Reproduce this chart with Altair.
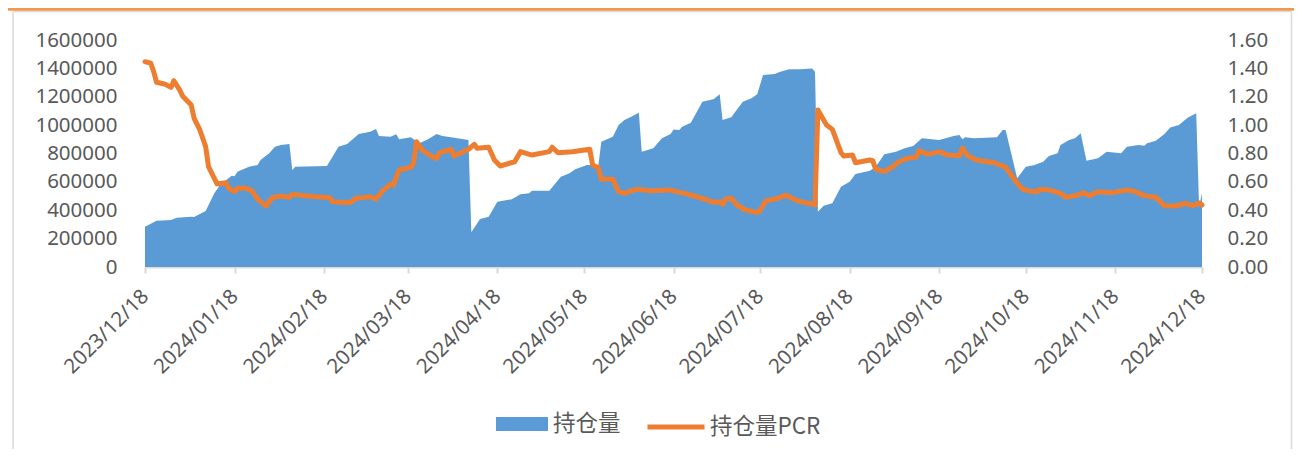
import altair as alt
import pandas as pd

# ---------------- data ----------------
oi_dates = [
    "2023-12-18", "2023-12-22", "2023-12-27", "2023-12-29", "2024-01-03", "2024-01-04",
    "2024-01-08", "2024-01-11", "2024-01-13", "2024-01-17", "2024-01-18", "2024-01-19",
    "2024-01-23", "2024-01-26", "2024-01-27", "2024-01-30", "2024-02-01", "2024-02-03",
    "2024-02-06", "2024-02-07", "2024-02-08", "2024-02-19", "2024-02-23", "2024-02-26",
    "2024-03-01", "2024-03-05", "2024-03-07", "2024-03-08", "2024-03-12", "2024-03-14",
    "2024-03-15", "2024-03-19", "2024-03-22", "2024-03-25", "2024-03-28", "2024-03-30",
    "2024-04-02", "2024-04-08", "2024-04-09", "2024-04-12", "2024-04-15", "2024-04-18",
    "2024-04-23", "2024-04-26", "2024-04-29", "2024-04-30", "2024-05-06", "2024-05-10",
    "2024-05-13", "2024-05-15", "2024-05-19", "2024-05-23", "2024-05-24", "2024-05-28",
    "2024-05-30", "2024-06-01", "2024-06-03", "2024-06-06", "2024-06-07", "2024-06-11",
    "2024-06-14", "2024-06-17", "2024-06-18", "2024-06-20", "2024-06-21", "2024-06-24",
    "2024-06-28", "2024-07-02", "2024-07-04", "2024-07-05", "2024-07-08", "2024-07-12",
    "2024-07-15", "2024-07-17", "2024-07-19", "2024-07-23", "2024-07-25", "2024-07-28",
    "2024-08-01", "2024-08-05", "2024-08-06", "2024-08-07", "2024-08-09", "2024-08-12",
    "2024-08-15", "2024-08-18", "2024-08-20", "2024-08-25", "2024-08-27", "2024-08-30",
    "2024-09-03", "2024-09-06", "2024-09-09", "2024-09-12", "2024-09-18", "2024-09-23",
    "2024-09-25", "2024-09-26", "2024-09-27", "2024-09-30", "2024-10-08", "2024-10-10",
    "2024-10-11", "2024-10-15", "2024-10-18", "2024-10-21", "2024-10-24", "2024-10-26",
    "2024-10-29", "2024-10-30", "2024-11-02", "2024-11-04", "2024-11-06", "2024-11-08",
    "2024-11-12", "2024-11-15", "2024-11-20", "2024-11-22", "2024-11-26", "2024-11-28",
    "2024-11-29", "2024-12-02", "2024-12-05", "2024-12-07", "2024-12-10", "2024-12-13",
    "2024-12-16", "2024-12-17", "2024-12-18",
]
oi_values = [
    284000, 326000, 331000, 347000, 355000, 352000,
    395000, 519000, 578000, 643000, 640000, 672000,
    707000, 719000, 754000, 801000, 848000, 860000,
    867000, 684000, 707000, 712000, 848000, 867000,
    937000, 954000, 972000, 923000, 918000, 935000,
    900000, 914000, 872000, 900000, 937000, 923000,
    914000, 895000, 245000, 338000, 355000, 460000,
    477000, 512000, 519000, 538000, 538000, 636000,
    660000, 689000, 719000, 719000, 883000, 918000,
    1001000, 1036000, 1055000, 1088000, 813000, 837000,
    907000, 937000, 970000, 966000, 989000, 1017000,
    1165000, 1184000, 1217000, 1036000, 1055000, 1165000,
    1189000, 1217000, 1353000, 1360000, 1377000, 1393000,
    1393000, 1400000, 1377000, 390000, 432000, 449000,
    566000, 601000, 655000, 679000, 707000, 794000,
    813000, 837000, 853000, 907000, 895000, 923000,
    930000, 900000, 914000, 907000, 914000, 966000,
    966000, 625000, 707000, 719000, 742000, 782000,
    801000, 860000, 895000, 907000, 942000, 749000,
    766000, 813000, 801000, 848000, 860000, 855000,
    872000, 890000, 937000, 984000, 1001000, 1052000,
    1083000, 425000, 519000,
]

pcr_dates = [
    "2023-12-18", "2023-12-20", "2023-12-21", "2023-12-22", "2023-12-25", "2023-12-27",
    "2023-12-28", "2023-12-30", "2023-12-31", "2024-01-03", "2024-01-04", "2024-01-06",
    "2024-01-08", "2024-01-09", "2024-01-11", "2024-01-12", "2024-01-15", "2024-01-16",
    "2024-01-18", "2024-01-19", "2024-01-22", "2024-01-24", "2024-01-26", "2024-01-29",
    "2024-01-31", "2024-02-03", "2024-02-06", "2024-02-07", "2024-02-12", "2024-02-20",
    "2024-02-21", "2024-02-27", "2024-02-29", "2024-03-05", "2024-03-07", "2024-03-09",
    "2024-03-12", "2024-03-13", "2024-03-15", "2024-03-19", "2024-03-20", "2024-03-21",
    "2024-03-23", "2024-03-26", "2024-03-28", "2024-03-29", "2024-04-02", "2024-04-03",
    "2024-04-08", "2024-04-10", "2024-04-11", "2024-04-15", "2024-04-17", "2024-04-19",
    "2024-04-24", "2024-04-26", "2024-04-30", "2024-05-06", "2024-05-07", "2024-05-09",
    "2024-05-14", "2024-05-20", "2024-05-21", "2024-05-23", "2024-05-24", "2024-05-28",
    "2024-05-30", "2024-06-01", "2024-06-05", "2024-06-10", "2024-06-17", "2024-06-19",
    "2024-06-22", "2024-06-26", "2024-06-28", "2024-07-02", "2024-07-04", "2024-07-05",
    "2024-07-06", "2024-07-08", "2024-07-10", "2024-07-13", "2024-07-17", "2024-07-18",
    "2024-07-20", "2024-07-23", "2024-07-27", "2024-07-29", "2024-08-01", "2024-08-05",
    "2024-08-06", "2024-08-07", "2024-08-08", "2024-08-10", "2024-08-12", "2024-08-15",
    "2024-08-16", "2024-08-19", "2024-08-20", "2024-08-25", "2024-08-26", "2024-08-27",
    "2024-08-30", "2024-09-02", "2024-09-04", "2024-09-07", "2024-09-10", "2024-09-11",
    "2024-09-14", "2024-09-18", "2024-09-21", "2024-09-25", "2024-09-26", "2024-09-28",
    "2024-10-01", "2024-10-07", "2024-10-10", "2024-10-11", "2024-10-15", "2024-10-17",
    "2024-10-19", "2024-10-22", "2024-10-23", "2024-10-26", "2024-10-30", "2024-11-01",
    "2024-11-05", "2024-11-07", "2024-11-09", "2024-11-12", "2024-11-17", "2024-11-22",
    "2024-11-25", "2024-11-28", "2024-12-02", "2024-12-05", "2024-12-09", "2024-12-12",
    "2024-12-15", "2024-12-17", "2024-12-18",
]
pcr_values = [
    1.447, 1.436, 1.377, 1.302, 1.288, 1.266,
    1.313, 1.248, 1.205, 1.142, 1.048, 0.966,
    0.848, 0.707, 0.625, 0.585, 0.594, 0.555,
    0.531, 0.555, 0.555, 0.538, 0.477, 0.430,
    0.488, 0.500, 0.491, 0.512, 0.500, 0.488,
    0.460, 0.453, 0.484, 0.495, 0.479, 0.531,
    0.585, 0.578, 0.684, 0.703, 0.731, 0.883,
    0.825, 0.782, 0.766, 0.806, 0.830, 0.782,
    0.830, 0.865, 0.837, 0.844, 0.754, 0.712,
    0.742, 0.813, 0.789, 0.813, 0.844, 0.806,
    0.813, 0.830, 0.719, 0.700, 0.618, 0.618,
    0.531, 0.519, 0.548, 0.538, 0.543, 0.531,
    0.519, 0.495, 0.484, 0.456, 0.460, 0.442,
    0.479, 0.484, 0.437, 0.402, 0.383, 0.400,
    0.467, 0.477, 0.507, 0.484, 0.460, 0.444,
    0.437, 1.107, 1.071, 1.001, 0.970, 0.806,
    0.782, 0.789, 0.735, 0.754, 0.750, 0.689,
    0.672, 0.707, 0.742, 0.766, 0.773, 0.820,
    0.794, 0.813, 0.789, 0.785, 0.837, 0.782,
    0.754, 0.735, 0.712, 0.703, 0.590, 0.548,
    0.536, 0.531, 0.548, 0.543, 0.519, 0.491,
    0.507, 0.524, 0.503, 0.531, 0.524, 0.543,
    0.531, 0.503, 0.491, 0.432, 0.430, 0.449,
    0.432, 0.453, 0.437,
]

tick_dates = [
    "2023-12-18", "2024-01-18", "2024-02-18", "2024-03-18", "2024-04-18",
    "2024-05-18", "2024-06-18", "2024-07-18", "2024-08-18", "2024-09-18",
    "2024-10-18", "2024-11-18", "2024-12-18",
]
oi_ticks = [0, 200000, 400000, 600000, 800000, 1000000, 1200000, 1400000, 1600000]
pcr_ticks = [0.0, 0.2, 0.4, 0.6, 0.8, 1.0, 1.2, 1.4, 1.6]
series_names = ["持仓量", "持仓量PCR"]

# ---------------- build tables ----------------
oi_df = pd.DataFrame({"date": pd.to_datetime(oi_dates), "oi": oi_values, "s": series_names[0]})
pcr_df = pd.DataFrame({"date": pd.to_datetime(pcr_dates), "pcr": pcr_values, "s": series_names[1]})


def to_dt(s):
    y, m, d = (int(v) for v in s.split("-"))
    return alt.DateTime(year=y, month=m, date=d)


tick_dt = [to_dt(s) for s in tick_dates]
x_domain = [tick_dt[0], tick_dt[-1]]

LABEL_COLOR = "#595959"
AXIS_GRAY = "#D9D9D9"
BLUE = "#5B9BD5"
ORANGE = "#ED7D31"

W, H = 1057, 227
PAD_L, PAD_T, PAD_R, PAD_B = 137, 32, 92, 182

x_enc = alt.X(
    "date:T",
    scale=alt.Scale(domain=x_domain),
    axis=alt.Axis(
        values=tick_dt,
        format="%Y/%m/%d",
        labelAngle=315,
        labelAlign="right",
        labelBaseline="middle",
        labelPadding=20,
        labelOverlap=False,
        labelFlush=False,
        tickSize=6,
        tickWidth=2,
        tickColor=AXIS_GRAY,
        domainColor=AXIS_GRAY,
        domainWidth=2,
        grid=False,
        title=None,
    ),
)

area = alt.Chart(oi_df).mark_area(opacity=1, interpolate="linear").encode(
    x=x_enc,
    y=alt.Y(
        "oi:Q",
        scale=alt.Scale(domain=[0, 1600000], nice=False),
        axis=alt.Axis(
            orient="left",
            values=oi_ticks,
            format="d",
            ticks=False,
            tickSize=0,
            domain=False,
            labelPadding=28,
            grid=False,
            title=None,
        ),
    ),
    fill=alt.Fill(
        "s:N",
        scale=alt.Scale(domain=[series_names[0]], range=[BLUE]),
        legend=alt.Legend(
            title=None,
            orient="none",
            legendX=351,
            legendY=358,
            padding=0,
            symbolType="M-1,-0.27L1,-0.27L1,0.27L-1,0.27Z",
            symbolSize=2704,
            symbolStrokeWidth=0,
            symbolOpacity=1,
            labelFont="Noto Sans CJK SC",
            labelFontSize=22.5,
            labelColor=LABEL_COLOR,
            labelOffset=5,
        ),
    ),
)

line = alt.Chart(pcr_df).mark_line(strokeWidth=5, strokeJoin="round", strokeCap="round").encode(
    x="date:T",
    y=alt.Y(
        "pcr:Q",
        scale=alt.Scale(domain=[0, 1.6], nice=False),
        axis=alt.Axis(
            orient="right",
            values=pcr_ticks,
            format=".2f",
            ticks=False,
            tickSize=0,
            domain=False,
            labelPadding=25,
            grid=False,
            title=None,
        ),
    ),
    stroke=alt.Stroke(
        "s:N",
        scale=alt.Scale(domain=[series_names[1]], range=[ORANGE]),
        legend=alt.Legend(
            title=None,
            orient="none",
            legendX=500,
            legendY=356,
            padding=0,
            symbolType="stroke",
            symbolSize=3249,
            symbolStrokeWidth=5,
            labelFont="Noto Sans CJK SC",
            labelFontSize=22.5,
            labelColor=LABEL_COLOR,
            labelOffset=3,
        ),
    ),
)

# ---------------- page decorations (frame lines of the original page) ----------------
deco_df = pd.DataFrame({"k": [0]})
top_band = alt.Chart(deco_df).mark_rule(color="#F2984C", strokeWidth=3.5).encode(
    x=alt.value(-PAD_L), x2=alt.value(W + PAD_R), y=alt.value(-PAD_T + 1)
)
top_gray = alt.Chart(deco_df).mark_rule(color=AXIS_GRAY, strokeWidth=1.5).encode(
    x=alt.value(-PAD_L + 5), x2=alt.value(W + PAD_R - 2.5), y=alt.value(-PAD_T + 3.5)
)
left_gray = alt.Chart(deco_df).mark_rule(color=AXIS_GRAY, strokeWidth=1.5).encode(
    x=alt.value(-PAD_L + 5), y=alt.value(-PAD_T + 3.5), y2=alt.value(H + PAD_B)
)
right_gray = alt.Chart(deco_df).mark_rule(color=AXIS_GRAY, strokeWidth=1.5).encode(
    x=alt.value(W + PAD_R - 2.5), y=alt.value(-PAD_T + 3.5), y2=alt.value(H + PAD_B)
)

chart = (
    alt.layer(top_gray, left_gray, right_gray, area, line, top_band)
    .resolve_scale(y="independent", fill="independent", stroke="independent")
    .properties(
        width=W,
        height=H,
        autosize=alt.AutoSizeParams(type="none"),
        padding={"left": PAD_L, "top": PAD_T, "right": PAD_R, "bottom": PAD_B},
        background="white",
    )
    .configure_view(strokeWidth=0)
    .configure_axis(labelFont="Noto Sans", labelFontSize=20.5, labelColor=LABEL_COLOR)
)

chart.save("out.html", embed_options={"renderer": "svg", "actions": False})
